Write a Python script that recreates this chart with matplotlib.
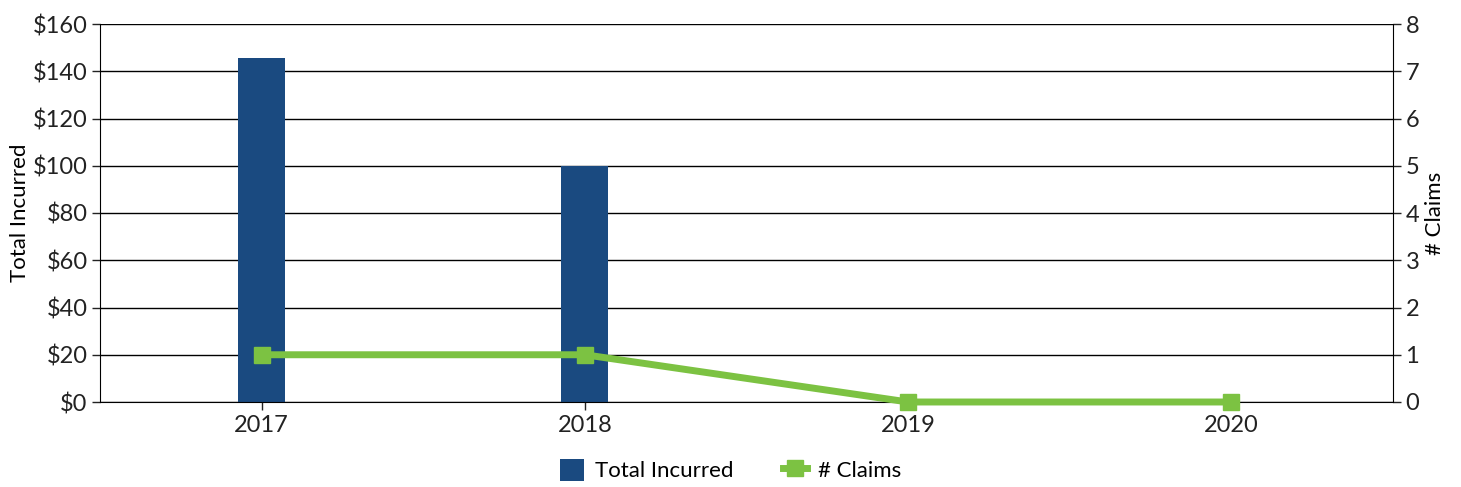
import matplotlib.pyplot as plt
from matplotlib.ticker import FuncFormatter
import numpy as np

plt.rcParams['font.family'] = ['Lato', 'DejaVu Sans']

years = ['2017', '2018', '2019', '2020']
total_incurred = [145.6, 100, 0, 0]
claims = [1, 1, 0, 0]

bar_color = '#1a4a80'
line_color = '#7cc242'

fig = plt.figure(figsize=(14.61, 4.87), dpi=100)
ax = fig.add_axes([100/1461, 1-402/487, 1293/1461, 378/487])
x = np.arange(len(years))

ax.bar(x, total_incurred, width=0.145, color=bar_color, zorder=2, label='Total Incurred')
ax.set_xlim(-0.5, 3.5)
ax.set_ylim(0, 160)
ax.set_yticks(np.arange(0, 161, 20))
ax.yaxis.set_major_formatter(FuncFormatter(lambda v, p: '${:.0f}'.format(v)))
ax.set_xticks(x)
ax.set_xticklabels(years)
ax.grid(axis='y', color='black', linewidth=1, zorder=0)
ax.set_axisbelow(True)
for s in ['top', 'right']:
    ax.spines[s].set_visible(False)
ax.tick_params(axis='both', labelsize=17, length=6, width=1, colors='#222222', pad=3)
ax.set_ylabel('Total Incurred', fontsize=16, labelpad=2)

ax2 = ax.twinx()
ax2.plot(x, claims, color=line_color, linewidth=5, marker='s', markersize=11,
         label='# Claims', zorder=3, clip_on=False)
ax2.set_ylim(0, 8)
ax2.set_yticks(np.arange(0, 9, 1))
for s in ['top', 'left', 'bottom']:
    ax2.spines[s].set_visible(False)
ax2.tick_params(axis='y', labelsize=17, length=6, width=1, colors='#222222', pad=3)
ax2.set_ylabel('# Claims', fontsize=16, labelpad=4)

h1, l1 = ax.get_legend_handles_labels()
h2, l2 = ax2.get_legend_handles_labels()
fig.legend(h1 + h2, l1 + l2, loc='center', bbox_to_anchor=(0.5, 1-470/487), ncol=2,
           frameon=False, fontsize=16, handlelength=1.1, handleheight=1.2,
           handletextpad=0.5, columnspacing=2.2)

plt.savefig('out.png', dpi=100)
